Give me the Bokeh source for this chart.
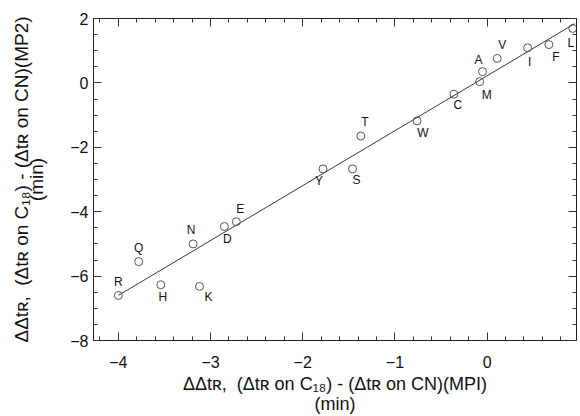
from bokeh.plotting import figure
from bokeh.models import (LinearAxis, SingleIntervalTicker, Range1d, ColumnDataSource, LabelSet,
                          CustomJSTickFormatter)
from bokeh.core.properties import value
from bokeh.embed import file_html
from bokeh.resources import INLINE

# ---- data ----
labels = ["R", "Q", "H", "K", "N", "D", "E", "Y", "S", "T", "W", "C", "M", "A", "V", "I", "F", "L"]
x_mpi = [-4.00, -3.78, -3.54, -3.12, -3.19, -2.85, -2.72, -1.78, -1.46, -1.37,
         -0.76, -0.36, -0.08, -0.05, 0.11, 0.44, 0.67, 0.93]
y_mp2 = [-6.60, -5.55, -6.27, -6.32, -5.00, -4.46, -4.31, -2.67, -2.67, -1.65,
         -1.18, -0.35, 0.04, 0.35, 0.76, 1.09, 1.19, 1.69]
fit_x = [-4.00, 0.95]
fit_y = [-6.60, 1.84]

x_label = "ΔΔtʀ,\u00a0 (Δtʀ on C₁₈) - (Δtʀ on CN)(MPI)\n(min)"
y_label = "ΔΔtʀ,\u00a0 (Δtʀ on C₁₈) - (Δtʀ on CN)(MP2)\n(min)"

# ---- label placement (style) ----
place = {
    "R": (0, 13), "Q": (0, 14), "H": (2, -12), "K": (9, -11), "N": (-2, 14),
    "D": (3, -12), "E": (4, 13), "Y": (-4, -12), "S": (4, -11), "T": (4, 14),
    "W": (6, -12), "C": (4, -11), "M": (7, -13), "A": (-4, 12), "V": (5, 13),
    "I": (2, -14), "F": (7, -12), "L": (-2, -15),
}

FONT = "Liberation Sans"

src = ColumnDataSource(dict(
    x=x_mpi, y=y_mp2, lab=labels,
    dx=[place[l][0] for l in labels],
    dy=[place[l][1] for l in labels],
))

p = figure(width=580, height=416, x_range=Range1d(-4.27, 0.97), y_range=Range1d(-8, 2),
           output_backend="svg", toolbar_location=None,
           min_border_left=93, min_border_right=4, min_border_top=18, min_border_bottom=75)
p.background_fill_color = "white"
p.border_fill_color = "white"
p.outline_line_color = "#222222"
p.outline_line_width = 1
p.grid.visible = False

p.line(fit_x, fit_y, line_color="#222222", line_width=0.9)
p.scatter("x", "y", source=src, size=8, marker="circle", fill_color=None,
          line_color="#555555", line_width=1)
p.add_layout(LabelSet(x="x", y="y", text="lab", x_offset="dx", y_offset="dy", source=src,
                      text_align="center", text_baseline="middle",
                      text_font=value(FONT), text_font_size="12px", text_color="#111111"))

xt = SingleIntervalTicker(interval=1, num_minor_ticks=5)
yt = SingleIntervalTicker(interval=2, num_minor_ticks=4)

def style(ax, show):
    ax.major_tick_in = 8
    ax.major_tick_out = 0
    ax.minor_tick_in = 4
    ax.minor_tick_out = 0
    ax.major_tick_line_color = "#333333"
    ax.minor_tick_line_color = "#333333"
    ax.axis_line_color = "#222222"
    if show:
        ax.major_label_text_font = FONT
        ax.major_label_text_font_size = "16px"
        ax.major_label_text_color = "#111111"
        ax.axis_label_text_font = FONT
        ax.axis_label_text_font_size = "18px"
        ax.axis_label_text_font_style = "normal"
        ax.axis_label_text_color = "#111111"
        ax.axis_label_text_line_height = 1.0
    else:
        ax.formatter = CustomJSTickFormatter(code="return ''")
        ax.major_label_standoff = 0

xa = p.xaxis[0]
xa.ticker = xt
xa.axis_label = x_label
style(xa, True)
xa.major_label_standoff = 15
xa.axis_label_standoff = 3

ya = p.yaxis[0]
ya.ticker = yt
ya.axis_label = y_label
style(ya, True)
ya.axis_label_text_font_size = "19px"
ya.axis_label_text_line_height = 0.75
ya.major_label_standoff = 5
ya.axis_label_standoff = 20

top = LinearAxis(ticker=SingleIntervalTicker(interval=1, num_minor_ticks=5))
style(top, False)
p.add_layout(top, "above")
right = LinearAxis(ticker=SingleIntervalTicker(interval=2, num_minor_ticks=4))
style(right, False)
p.add_layout(right, "right")

open("out.html", "w").write(file_html(p, INLINE))
